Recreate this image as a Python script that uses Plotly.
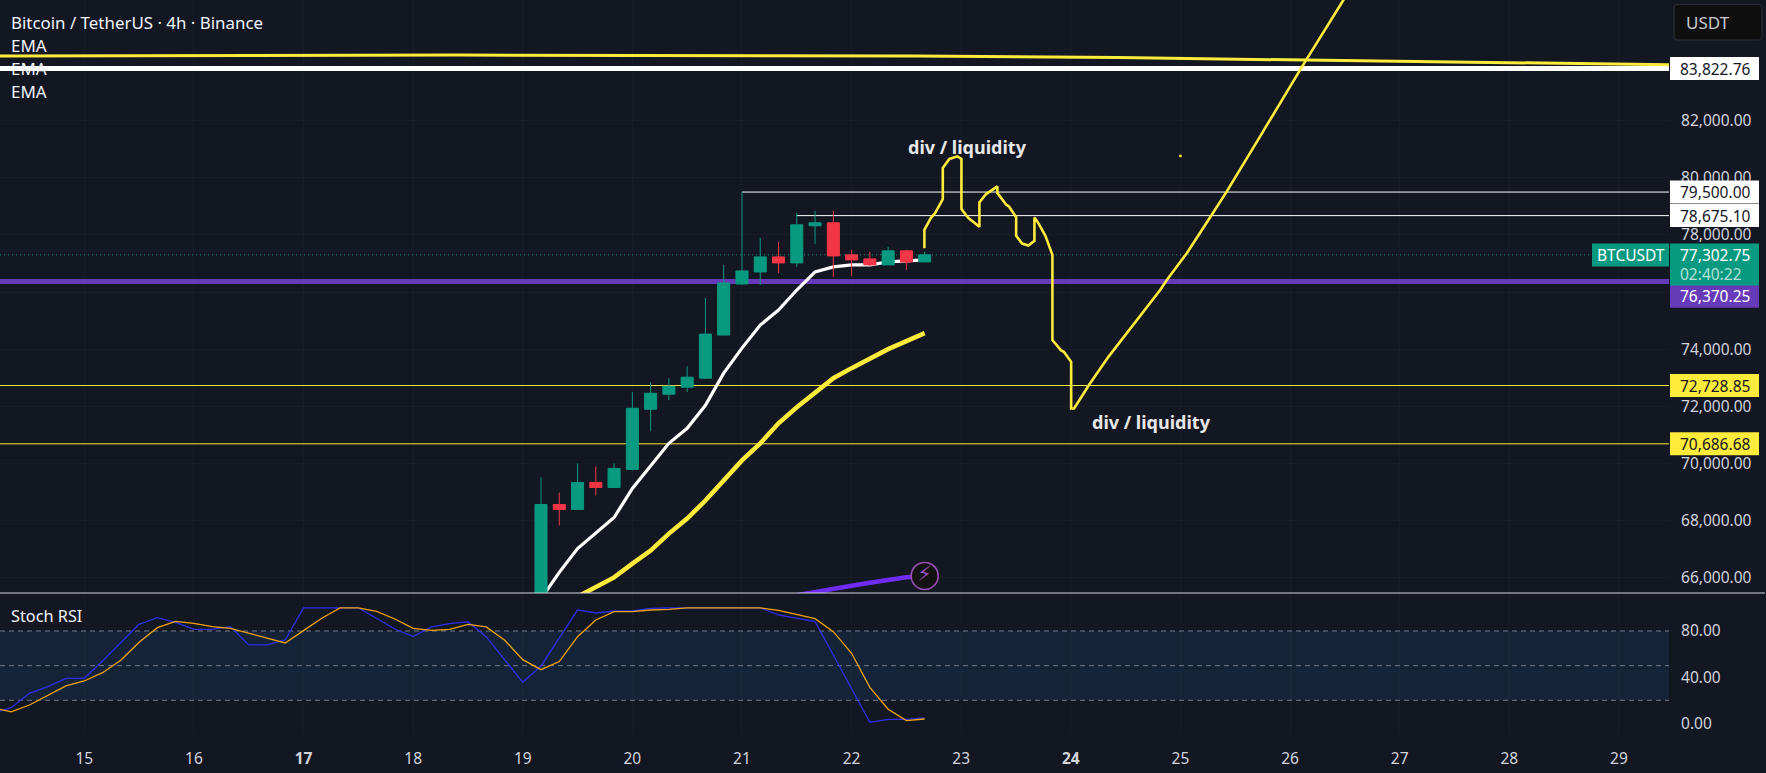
import pandas as pd
import plotly.graph_objects as go

# ---------- data ----------
BAR_START = "2024-11-14 04:00"
STOCH_K = [8.7,13.6,26.0,31.8,39.0,39.0,54.0,70.2,85.8,91.5,87.5,81.4,81.4,83.8,67.9,67.9,72.2,100,100,100,100,91.0,81.7,75.1,83.5,86.4,88.1,75.1,54.9,35.6,49.7,73.7,98.2,95.6,97.3,97.3,99.6,100,100,100,100,100,100,93.9,91.0,88.1,59.2,30.4,0.9,3.5,3.5,4.7]
STOCH_D = [13.6,9.9,15.9,24.0,32.4,36.7,43.9,54.6,70.2,82.9,88.4,86.6,83.8,82.3,78.0,73.4,69.6,80.3,91.0,100,100,97.0,90.4,82.3,80.6,81.4,85.8,83.5,72.2,55.2,46.5,53.5,75.1,89.5,96.7,96.7,98.2,98.8,100,100,100,100,100,97.9,94.4,90.7,79.4,60.7,31.2,12.2,2.4,3.8]

OPEN  = [64900,68564,68388,69336,69160,69792,71897,72423,72669,72985,74494,76283,76704,77230,77020,78318,78423,77301,77160,76950,77441,77055]
HIGH  = [69511,68985,70002,69897,70002,72494,72844,72985,73406,75792,76950,79500,77897,77757,78774,78844,78844,77476,77406,77581,77476,77406]
LOW   = [64800,67827,68388,68879,69160,69757,71125,72213,72494,72985,74494,76248,76248,76669,76880,77687,76529,76564,76915,76950,76774,77055]
CLOSE = [68564,68388,69336,69160,69827,71932,72458,72704,73020,74529,76318,76739,77230,77020,78353,78423,77265,77125,76950,77441,77055,77302.75]

EMA_FAST = [65265,66188,67020,67546,68108,69125,69932,70704,71230,72037,73160,74037,74844,75371,76072,76704,76880,76950,76950,77055,77090,77125]
EMA_MID  = [64143,64774,65336,65662,66013,66493,66950,67546,68072,68704,69406,70108,70704,71406,71967,72494,72985,73336,73686,74002,74283,74564]
EMA_SLOW = [65388,65511,65616,65722,65827,65932,66020,66062]

LONG_DAYS   = [14.23,18.41,22.59,24.43,26.14,27.83,29.46]
LONG_PRICES = [84259,84294,84259,84213,84118,84048,83957]

DRAWN_DAYS = [22.664,22.664,22.723,22.762,22.832,22.832,22.892,22.965,23.002,23.002,23.066,23.111,23.166,23.166,23.227,23.330,23.330,23.410,23.437,23.501,23.501,23.556,23.613,23.668,23.668,23.704,23.768,23.832,23.832,23.909,23.936,24.003,24.003,24.030,24.170,24.343,24.815,24.876,25.058,25.286,25.423,25.727,26.122,26.548]
DRAWN_PRICES = [77536,78178,78588,78764,79255,80343,80658,80750,80658,78904,78588,78448,78283,79136,79430,79697,79465,79065,78985,78623,77967,77697,77627,77792,78609,78413,77967,77301,74318,73967,73908,73557,71922,71922,72774,73732,76072,76423,77360,78704,79522,81451,83967,86599]

LEVEL_WHITE_TOP = 83822.76
LEVEL_HIGH = 79500.00
LEVEL_HIGH2 = 78675.10
LAST_PRICE = 77302.75
LEVEL_PURPLE = 76370.25
LEVEL_Y1 = 72728.85
LEVEL_Y2 = 70686.68
DOT_DAY, DOT_PRICE = 25.0, 80764

PRICE_TICKS = [66000,68000,70000,72000,74000,76000,78000,80000,82000]
PRICE_TICK_TEXT = ["66,000.00","68,000.00","70,000.00","72,000.00","74,000.00","","78,000.00","80,000.00","82,000.00"]
STOCH_TICKS = [0,40,80]
STOCH_TICK_TEXT = ["0.00","40.00","80.00"]
DAY_TICKS = list(range(15,30))
DAY_BOLD = [17,24]

# ---------- style ----------
BG = "#131722"
GREEN, RED = "#089981", "#F23645"
YELLOW, WHITE, PURPLE = "#FFEB3B", "#FFFFFF", "#673AB7"
FONT = "Noto Sans"
TXT = "#D1D4DC"
W, H = 1766, 773
PANE_R = 1669/W
Y_TOP, Y_BOT, S_BOT = 0, 593, 734
XR = ["2024-11-14 05:33", "2024-11-29 10:58"]
YR = [65466, 86222]

def day(d):
    return pd.Timestamp("2024-11-01") + pd.Timedelta(days=d-1)

dates = pd.date_range(BAR_START, periods=len(STOCH_K), freq="4h")
cdates = dates[-len(OPEN):]
sdates = dates[-len(EMA_SLOW):]

fig = go.Figure()

def line(x, y, color, width, yaxis="y", dash=None):
    fig.add_trace(go.Scatter(x=x, y=y, mode="lines", yaxis=yaxis, hoverinfo="skip",
                             line=dict(color=color, width=width, dash=dash), showlegend=False))

line(XR, [LAST_PRICE]*2, GREEN, 1, dash="1px,3px")
line(XR, [LEVEL_PURPLE]*2, PURPLE, 5)
line(XR, [LEVEL_Y1]*2, YELLOW, 1)
line(XR, [LEVEL_Y2]*2, YELLOW, 1)
line([cdates[11], XR[1]], [LEVEL_HIGH]*2, WHITE, 1)
line([cdates[14], XR[1]], [LEVEL_HIGH2]*2, WHITE, 1)
line(XR, [LEVEL_WHITE_TOP]*2, WHITE, 5)
line([day(d) for d in LONG_DAYS], LONG_PRICES, YELLOW, 3)
line(sdates, EMA_SLOW, "#6F2CF5", 4.5)
line(cdates, EMA_MID, YELLOW, 4.5)
line(cdates, EMA_FAST, WHITE, 3.2)
line([day(d) for d in DRAWN_DAYS], DRAWN_PRICES, YELLOW, 2.6)
fig.add_trace(go.Scatter(x=[day(DOT_DAY)], y=[DOT_PRICE], mode="markers", hoverinfo="skip", showlegend=False,
                         marker=dict(symbol="square", size=2.5, color=YELLOW)))
fig.add_trace(go.Scatter(x=[sdates[-1]], y=[EMA_SLOW[-1]], mode="markers+text", text=["⚡"],
                         textposition="middle center", hoverinfo="skip", showlegend=False,
                         textfont=dict(family="DejaVu Sans", size=21, color="#9C4FB5"),
                         marker=dict(size=27, color="#121212", line=dict(color="#9C4FB5", width=1.6))))

fig.add_trace(go.Candlestick(x=cdates, open=OPEN, high=HIGH, low=LOW, close=CLOSE, yaxis="y3",
    increasing=dict(line=dict(color=GREEN, width=1), fillcolor=GREEN),
    decreasing=dict(line=dict(color=RED, width=1), fillcolor=RED),
    whiskerwidth=0, hoverinfo="skip", showlegend=False))

line(dates, STOCH_K, "#2E2EEB", 1.3, yaxis="y2")
line(dates, STOCH_D, "#F2A30F", 1.3, yaxis="y2")

GRID = "rgba(240,243,250,0.025)"
tickfont = dict(family=FONT, size=15.5, color=TXT)

shapes = [
    dict(type="rect", xref="x domain", yref="y2", x0=0, x1=1, y0=20, y1=80,
         fillcolor="rgba(33,150,243,0.1)", line_width=0, layer="below"),
]
for v in (80, 50, 20):
    shapes.append(dict(type="line", xref="x domain", yref="y2", x0=0, x1=1, y0=v, y1=v,
                       line=dict(color="#787B86", width=1, dash="5px,4px"), layer="below"))
shapes.append(dict(type="line", xref="paper", yref="paper", x0=0, x1=1765/W,
                   y0=1-Y_BOT/H, y1=1-Y_BOT/H, line=dict(color="#D6D8DE", width=1.2), layer="above"))

annotations = []
TX = 1678
def badge(val, text, bg, fg, top=11.5, bot=-11.5, yshift=0):
    shapes.append(dict(type="rect", xref="paper", yref="y", x0=1670/W, x1=1759/W,
                       ysizemode="pixel", yanchor=val, y0=top, y1=bot, fillcolor=bg, line_width=0, layer="above"))
    annotations.append(dict(xref="paper", yref="y", x=TX/W, y=val, yshift=yshift, text=text, showarrow=False,
                            xanchor="left", yanchor="middle", align="left",
                            font=dict(family=FONT, size=15.5, color=fg)))

badge(LEVEL_WHITE_TOP, "83,822.76", WHITE, "#131722")
badge(LEVEL_HIGH, "79,500.00", WHITE, "#131722")
badge(LEVEL_HIGH2, "78,675.10", WHITE, "#131722")
badge(LEVEL_Y1, "72,728.85", YELLOW, "#131722")
badge(LEVEL_Y2, "70,686.68", YELLOW, "#131722")
badge(LEVEL_PURPLE, "76,370.25", PURPLE, "#FFFFFF", top=-3.5, bot=-26.2, yshift=-14.8)
shapes.append(dict(type="rect", xref="paper", yref="y", x0=1670/W, x1=1759/W, ysizemode="pixel",
                   yanchor=LAST_PRICE, y0=11.3, y1=-30.7, fillcolor=GREEN, line_width=0, layer="above"))
annotations.append(dict(xref="paper", yref="y", x=TX/W, y=LAST_PRICE, text="77,302.75", showarrow=False,
                        xanchor="left", yanchor="middle", font=dict(family=FONT, size=15.5, color="#FFFFFF")))
annotations.append(dict(xref="paper", yref="y", x=TX/W, y=LAST_PRICE, yshift=-19, text="02:40:22", showarrow=False,
                        xanchor="left", yanchor="middle", font=dict(family=FONT, size=15.5, color="#B5E0D8")))
shapes.append(dict(type="rect", xref="paper", yref="y", x0=1592/W, x1=1669/W, ysizemode="pixel",
                   yanchor=LAST_PRICE, y0=11.3, y1=-11.7, fillcolor=GREEN, line_width=0, layer="above"))
annotations.append(dict(xref="paper", yref="y", x=1595/W, y=LAST_PRICE, text="BTCUSDT", showarrow=False,
                        xanchor="left", yanchor="middle", font=dict(family=FONT, size=15.5, color="#FFFFFF")))

# USDT button
bx0, bx1, by0, by1, r = 1674/W, 1762/W, 1-40/H, 1-4.5/H, 4
rx, ry = r/W, r/H
shapes.append(dict(type="path", xref="paper", yref="paper", layer="above",
    path=f"M {bx0+rx} {by0} L {bx1-rx} {by0} Q {bx1} {by0} {bx1} {by0+ry} L {bx1} {by1-ry} Q {bx1} {by1} {bx1-rx} {by1} "
         f"L {bx0+rx} {by1} Q {bx0} {by1} {bx0} {by1-ry} L {bx0} {by0+ry} Q {bx0} {by0} {bx0+rx} {by0} Z",
    fillcolor="#0F0F0F", line=dict(color="#2A2E39", width=1.2)))
annotations.append(dict(xref="paper", yref="paper", x=1684/W, y=1-22.5/H, text="USDT", showarrow=False,
                        xanchor="left", yanchor="middle", font=dict(family=FONT, size=17, color="#C8CAD0")))

def label(text, x, y, size, color="#F0F3FA"):
    annotations.append(dict(xref="paper", yref="paper", x=x/W, y=1-y/H, text=text, showarrow=False,
                            xanchor="left", yanchor="middle", font=dict(family=FONT, size=size, color=color)))

label("Bitcoin / TetherUS · 4h · Binance", 9, 22, 16.9)
label("EMA", 9, 45, 17)
label("EMA", 9, 68, 17)
label("EMA", 9, 91, 17)
label("Stoch RSI", 9, 615.7, 16.3)

annotations.append(dict(x=day(23.06), y=81066, text="<b>div / liquidity</b>", showarrow=False,
                        font=dict(family=FONT, size=18, color="#E8E8EA")))
annotations.append(dict(x=day(24.74), y=71462, text="<b>div / liquidity</b>", showarrow=False,
                        font=dict(family=FONT, size=18, color="#E8E8EA")))

fig.update_layout(
    width=W, height=H, margin=dict(l=0, r=0, t=0, b=0),
    paper_bgcolor=BG, plot_bgcolor=BG, showlegend=False, hovermode=False,
    boxgap=0.34, boxgroupgap=0,
    xaxis=dict(domain=[0, PANE_R], anchor="y2", type="date", range=XR, rangeslider=dict(visible=False),
               tickmode="array", tickvals=[day(d) for d in DAY_TICKS],
               ticktext=[f"<b>{d}</b>" if d in DAY_BOLD else str(d) for d in DAY_TICKS],
               tickfont=tickfont, ticks="outside", ticklen=10, tickcolor="rgba(0,0,0,0)",
               showgrid=True, gridcolor=GRID, zeroline=False, showline=False, fixedrange=True),
    yaxis=dict(domain=[1-Y_BOT/H, 1], anchor="x", side="right", range=YR,
               tickmode="array", tickvals=PRICE_TICKS, ticktext=PRICE_TICK_TEXT, tickfont=tickfont,
               ticks="outside", ticklen=8, tickcolor="rgba(0,0,0,0)",
               showgrid=True, gridcolor=GRID, zeroline=False, showline=False, fixedrange=True),
    yaxis3=dict(overlaying="y", side="right", range=YR, visible=False, fixedrange=True),
    yaxis2=dict(domain=[1-S_BOT/H, 1-Y_BOT/H], anchor="x", side="right", range=[-9.2, 112.9],
                tickmode="array", tickvals=STOCH_TICKS, ticktext=STOCH_TICK_TEXT, tickfont=tickfont,
                ticks="outside", ticklen=8, tickcolor="rgba(0,0,0,0)",
                showgrid=False, zeroline=False, showline=False, fixedrange=True),
    shapes=shapes, annotations=annotations,
)

fig.write_html("out.html", config={"displayModeBar": False},
               post_script="document.body.style.margin='0';document.body.style.background='#131722';")
